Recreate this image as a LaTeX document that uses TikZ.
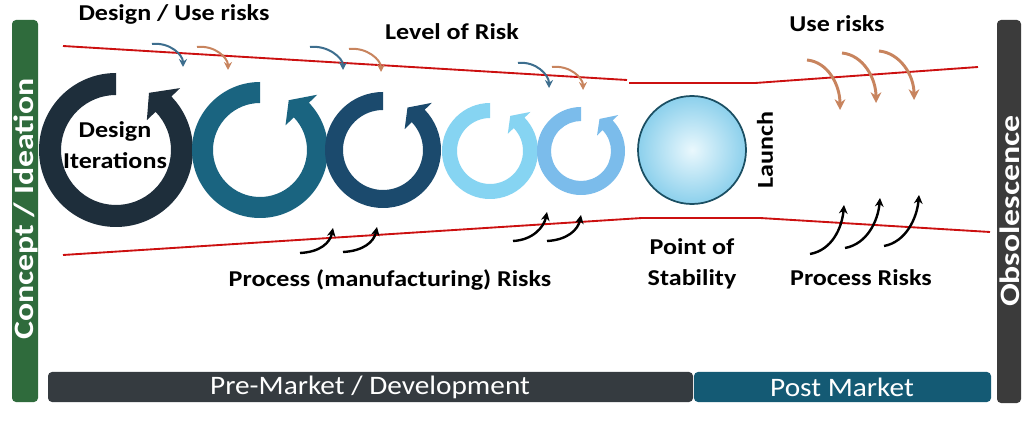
\documentclass[tikz,border=0pt]{standalone}
\usepackage{fontspec}
\setmainfont{Carlito}[FakeStretch=1.10, BoldFeatures={FakeStretch=1.15}]
\usetikzlibrary{calc,arrows.meta}
\definecolor{cgreen}{HTML}{2F6B3C}
\definecolor{cpre}{HTML}{353B40}
\definecolor{cpost}{HTML}{145A74}
\definecolor{cobs}{HTML}{3B3B3B}
\definecolor{cred}{HTML}{CC1010}
\definecolor{rone}{HTML}{1E2E3B}
\definecolor{rtwo}{HTML}{1A6480}
\definecolor{rthree}{HTML}{1B4A6D}
\definecolor{rfour}{HTML}{86D4F2}
\definecolor{rfive}{HTML}{7BBCEB}
\definecolor{cblue}{HTML}{3D6E8E}
\definecolor{corange}{HTML}{C8845E}
\definecolor{sphedge}{HTML}{1B4F63}
\definecolor{sphin}{HTML}{EAF8FD}
\definecolor{sphout}{HTML}{8CD0EC}
\newcommand\myring[6]{%
  \coordinate (#1) at (#2,#3);
  \pgfmathsetmacro\myRo{#4}%
  \pgfmathsetmacro\myRi{#4-#5}%
  \pgfmathsetmacro\myRm{#4-#5/2}%
  \pgfmathsetmacro\myBo{#4+0.55*#5}%
  \pgfmathsetmacro\myBi{#4-#5-0.55*#5}%
  \fill[#6] ($(#1)+(-90:\myRo)$) arc[start angle=-90,end angle=-404,radius=\myRo]
    -- ($(#1)+(-404:\myBo)$) -- ($(#1)+(-420:\myRm)$) -- ($(#1)+(-404:\myBi)$)
    -- ($(#1)+(-404:\myRi)$) arc[start angle=-404,end angle=-90,radius=\myRi] -- cycle;
}
\newcommand\sidestretch[1]{\scalebox{1.05}[1]{#1}}
\tikzset{
  lbl/.style={font=\bfseries\fontsize{17}{23}\selectfont, text=black, align=center},
  bartext/.style={font=\fontsize{20}{24}\selectfont, text=white},
  sidetext/.style={font=\bfseries\fontsize{21}{25}\selectfont, text=white, rotate=90, inner sep=0pt},
  redline/.style={cred, line width=1.4pt},
  toparr/.style={line width=1.5pt, -{Stealth[length=6pt,width=6pt]}},
  usearr/.style={corange, line width=2.2pt, -{Stealth[length=8pt,width=8pt]}},
  procarr/.style={black, line width=1.8pt, -{Stealth[length=6.5pt,width=6.5pt]}},
}
\begin{document}
\begin{tikzpicture}[x=0.75pt,y=-0.75pt]
\useasboundingbox (0,0) rectangle (1024,434);
\fill[white] (0,0) rectangle (1024,434);
% side bars
\fill[cgreen, rounded corners=3pt] (12,20) rectangle (38,402);
\node[sidetext] (concept) at (26,209) {\sidestretch{Concept / Ideation}};
\fill[cobs, rounded corners=3pt] (997,20) rectangle (1021,403);
\node[sidetext] (obs) at (1009.5,211) {\sidestretch{Obsolescence}};
% bottom bars
\fill[cpre, rounded corners=3pt] (48,372) rectangle (693,402);
\node[bartext] (pre) at (370,387) {Pre-Market / Development};
\fill[cpost, rounded corners=3pt] (694,372) rectangle (991,402);
\node[bartext] (post) at (842,387) {Post Market};
% red lines
\draw[redline] (63,46) -- (627,80);
\draw[redline] (629,83) -- (755,83) -- (978,67);
\draw[redline] (63,255) -- (642,218) -- (760,218) -- (990,232);
% rings
\myring{ra}{116}{150}{77}{22}{rone}
\myring{rb}{260}{150}{68}{21}{rtwo}
\myring{rc}{383}{150}{58}{18}{rthree}
\myring{rd}{490}{151}{48}{15}{rfour}
\myring{re}{581}{151}{44}{14}{rfive}
% sphere
\shade[inner color=sphin, outer color=sphout] (692,150) circle[radius=54];
\draw[sphedge, line width=1.3pt] (692,150) circle[radius=54];
% labels
\node[lbl] (dur) at (174,14) {Design / Use risks};
\node[lbl] (lor) at (452,32) {Level of Risk};
\node[lbl] (ur) at (837,24) {Use risks};
\node[lbl] (di) at (115,145) {Design\\Iterations};
\node[lbl, rotate=90] (launch) at (765,150) {Launch};
\node[lbl] (pmr) at (390,280) {Process (manufacturing) Risks};
\node[lbl] (pos) at (692,264) {Point of\\Stability};
\node[lbl] (pr) at (861,278) {Process Risks};
% top small arrows
\draw[toparr, cblue] (152,44) .. controls (170,42) and (183,55) .. (183,67);
\draw[toparr, corange] (197,47) .. controls (215,45) and (228,58) .. (228,70);
\draw[toparr, cblue] (310,47) .. controls (328,45) and (343,58) .. (343,70);
\draw[toparr, corange] (349,49) .. controls (367,47) and (381,60) .. (381,72);
\draw[toparr, cblue] (518,63) .. controls (536,61) and (549,75) .. (549,88);
\draw[toparr, corange] (552,67) .. controls (570,65) and (583,78) .. (583,90);
% use risk arrows
\draw[usearr] (807,60) .. controls (828,62) and (840,85) .. (840,110);
\draw[usearr] (842,53) .. controls (863,55) and (876,78) .. (876,103);
\draw[usearr] (879,51) .. controls (900,53) and (914,75) .. (914,100);
% process arrows
\draw[procarr] (300,253) .. controls (320,252) and (330,243) .. (333,228);
\draw[procarr] (343,252) .. controls (363,251) and (374,242) .. (377,227);
\draw[procarr] (513,241) .. controls (533,240) and (544,227) .. (547,212);
\draw[procarr] (547,241) .. controls (567,240) and (578,230) .. (581,215);
\draw[procarr] (810,254) .. controls (832,250) and (842,228) .. (844,205);
\draw[procarr] (845,248) .. controls (867,244) and (878,221) .. (880,198);
\draw[procarr] (884,246) .. controls (906,242) and (917,218) .. (919,195);
\end{tikzpicture}
\end{document}
